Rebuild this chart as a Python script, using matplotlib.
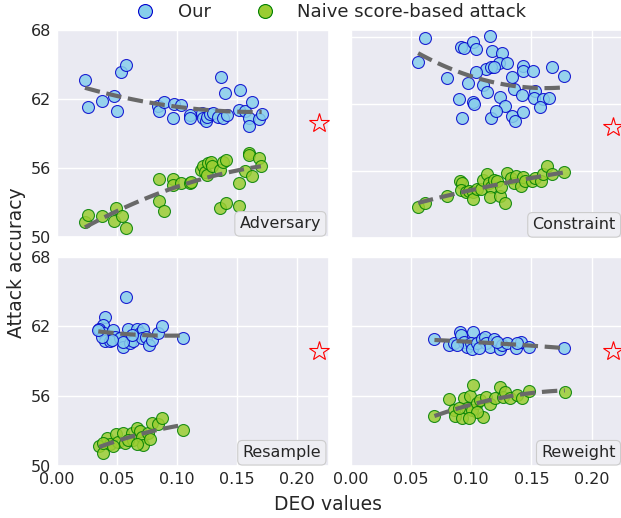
import numpy as np
import matplotlib
matplotlib.use('Agg')
import matplotlib.pyplot as plt
import seaborn as sns
from matplotlib.lines import Line2D

sns.set_theme(style='darkgrid')
plt.rcParams['font.family'] = ['DejaVu Sans']

# Adversary
adv_our_x = [0.0233, 0.0256, 0.0372, 0.0475, 0.0497, 0.0533, 0.0575, 0.0844, 0.0853, 0.0892, 0.0969, 0.0975,
             0.1031, 0.1108, 0.1108, 0.1206, 0.1219, 0.1242, 0.1253, 0.1275, 0.1297, 0.1344, 0.1364, 0.1400,
             0.1386, 0.1414, 0.1525, 0.1519, 0.1567, 0.1622, 0.1603, 0.1603, 0.1686, 0.1706]
adv_our_y = [63.65, 61.28, 61.85, 62.26, 60.96, 64.38, 64.96, 61.39, 60.99, 61.77, 60.38, 61.57,
             61.48, 60.61, 60.32, 60.81, 60.32, 60.12, 60.41, 60.70, 60.75, 60.41, 63.89, 62.55,
             60.32, 60.61, 62.78, 61.04, 60.96, 61.77, 60.32, 59.65, 60.23, 60.70]
adv_naive_x = [0.0233, 0.0261, 0.0375, 0.0475, 0.0494, 0.0539, 0.0575, 0.0853, 0.0853, 0.0892, 0.0969, 0.0969,
               0.1033, 0.1108, 0.1117, 0.1197, 0.1219, 0.1233, 0.1247, 0.1261, 0.1281, 0.1289, 0.1358, 0.1381,
               0.1406, 0.1358, 0.1406, 0.1519, 0.1519, 0.1567, 0.1603, 0.1603, 0.1622, 0.1683, 0.1700]
adv_naive_y = [51.24, 51.91, 51.77, 51.33, 52.49, 51.83, 50.75, 55.04, 53.07, 52.20, 55.04, 54.52,
               54.67, 54.67, 54.80, 55.83, 56.12, 55.68, 55.39, 56.41, 56.55, 56.12, 55.77, 56.55,
               56.70, 52.49, 52.98, 54.67, 52.70, 55.74, 57.28, 57.15, 55.30, 56.84, 56.17]

# Constraint
con_our_x = [0.0619, 0.0558, 0.0911, 0.0939, 0.1017, 0.1042, 0.1156, 0.1175, 0.1258, 0.1231, 0.1119, 0.1161,
             0.1189, 0.1294, 0.1036, 0.0800, 0.0975, 0.1097, 0.1133, 0.1336, 0.1356, 0.1419, 0.1433, 0.1433,
             0.1517, 0.1675, 0.1772, 0.1531, 0.1522, 0.1600, 0.1647, 0.1572, 0.1236, 0.1278, 0.0897, 0.1017,
             0.1022, 0.0919, 0.1161, 0.1203, 0.1336, 0.1361, 0.1433]
con_our_y = [67.85, 65.70, 67.10, 66.99, 67.49, 66.90, 68.03, 66.75, 66.51, 65.61, 65.10, 65.25,
             65.31, 65.61, 64.81, 64.27, 63.85, 63.67, 63.01, 64.42, 63.31, 62.81, 65.40, 64.96,
             64.96, 65.31, 64.45, 63.16, 62.51, 62.42, 62.51, 61.73, 62.57, 61.79, 62.45, 62.15,
             61.97, 60.72, 60.72, 61.31, 60.93, 60.48, 61.22]
con_naive_x = [0.0558, 0.0619, 0.0800, 0.0906, 0.0925, 0.0911, 0.0953, 0.0981, 0.1017, 0.1017, 0.1050, 0.1078,
               0.1100, 0.1133, 0.1147, 0.1161, 0.1156, 0.1189, 0.1217, 0.1239, 0.1278, 0.1244, 0.1294, 0.1328,
               0.1356, 0.1369, 0.1411, 0.1433, 0.1444, 0.1508, 0.1528, 0.1578, 0.1600, 0.1633, 0.1675, 0.1772]
con_naive_y = [52.72, 53.08, 53.76, 55.10, 54.87, 54.27, 54.06, 54.21, 54.06, 53.46, 54.36, 54.36,
               55.16, 55.70, 54.87, 54.51, 53.67, 55.16, 55.10, 53.76, 53.08, 54.51, 55.76, 55.34,
               54.87, 55.55, 54.66, 55.40, 55.10, 55.04, 55.34, 55.10, 55.70, 56.45, 55.70, 55.91]

# Resample
res_our_x = [0.0575, 0.0400, 0.0386, 0.0353, 0.0392, 0.0469, 0.0483, 0.0400, 0.0442, 0.0525, 0.0547, 0.0594,
             0.0608, 0.0636, 0.0664, 0.0692, 0.0714, 0.0706, 0.0742, 0.0769, 0.0789, 0.0844, 0.0872, 0.1053,
             0.0553, 0.0622, 0.0458, 0.0372, 0.0344]
res_our_y = [64.50, 62.83, 62.12, 61.75, 61.40, 61.69, 61.11, 60.77, 60.77, 60.97, 60.25, 61.75,
             60.54, 60.77, 61.75, 61.40, 61.75, 60.97, 61.11, 60.40, 60.83, 61.40, 62.03, 60.97,
             60.68, 61.26, 60.83, 61.11, 61.69]
res_naive_x = [0.0353, 0.0381, 0.0414, 0.0442, 0.0492, 0.0511, 0.0553, 0.0569, 0.0622, 0.0636, 0.0664, 0.0692,
               0.0706, 0.0719, 0.0761, 0.0775, 0.0789, 0.0844, 0.0872, 0.1053, 0.0386, 0.0469, 0.0594, 0.0664]
res_naive_y = [51.70, 51.12, 52.36, 51.87, 52.73, 52.07, 52.79, 51.93, 52.84, 52.21, 53.22, 53.02,
               52.50, 51.78, 52.79, 52.27, 53.65, 53.59, 54.08, 53.08, 51.93, 51.70, 52.21, 51.87]

# Reweight
rew_our_x = [0.0694, 0.0819, 0.0853, 0.0908, 0.0917, 0.1014, 0.0936, 0.0964, 0.0997, 0.1006, 0.1047, 0.1089,
             0.1117, 0.1125, 0.1158, 0.1186, 0.1236, 0.1256, 0.1297, 0.1375, 0.1414, 0.1478, 0.1769, 0.0881,
             0.1061, 0.1214, 0.1381]
rew_our_y = [60.89, 60.40, 60.54, 61.54, 61.26, 61.54, 60.68, 60.25, 60.54, 60.03, 60.54, 60.89,
             61.06, 60.54, 60.25, 60.89, 60.03, 60.40, 60.54, 60.11, 60.68, 60.25, 60.16, 60.40,
             60.11, 60.68, 60.54]
rew_naive_x = [0.0694, 0.0819, 0.0853, 0.0867, 0.0922, 0.0936, 0.0964, 0.0992, 0.1014, 0.1006, 0.1047, 0.1097,
               0.1075, 0.1125, 0.1158, 0.1200, 0.1236, 0.1264, 0.1283, 0.1325, 0.1381, 0.1422, 0.1478, 0.1778,
               0.0894, 0.1047, 0.0978]
rew_naive_y = [54.28, 55.72, 54.80, 54.28, 54.08, 55.81, 54.94, 56.00, 56.95, 54.80, 55.37, 54.17,
               55.66, 55.89, 55.31, 55.81, 56.75, 55.94, 56.37, 55.81, 56.09, 55.81, 56.43, 56.37,
               54.94, 54.65, 54.08]

panel_names = ['Adversary', 'Constraint', 'Resample', 'Reweight']
star_deo = 0.218
star_acc = 59.9
y_ticks = [50, 56, 62, 68]
x_ticks = [0.00, 0.05, 0.10, 0.15, 0.20]

OUR_STYLE = dict(s=74, facecolor='skyblue', edgecolor='mediumblue', linewidth=0.8, alpha=0.85, zorder=3)
NAIVE_STYLE = dict(s=74, facecolor='yellowgreen', edgecolor='green', linewidth=0.8, alpha=0.85, zorder=3)


def draw_trend(ax, x, y):
    # quadratic fit through the points
    x = np.asarray(x)
    coef = np.polyfit(x, y, 2)
    xs = np.linspace(x.min(), x.max(), 50)
    ax.plot(xs, np.polyval(coef, xs), '--', color='dimgray', lw=3, zorder=4)


fig = plt.figure(figsize=(6.21, 5.18), dpi=100)
positions = [
    [0.0918, 0.5430, 0.4385, 0.3990],
    [0.5652, 0.5410, 0.4396, 0.4010],
    [0.0918, 0.1010, 0.4385, 0.4035],
    [0.5652, 0.1010, 0.4396, 0.4035],
]
data = [
    (adv_our_x, adv_our_y, adv_naive_x, adv_naive_y),
    (con_our_x, con_our_y, con_naive_x, con_naive_y),
    (res_our_x, res_our_y, res_naive_x, res_naive_y),
    (rew_our_x, rew_our_y, rew_naive_x, rew_naive_y),
]
ylims = [(50, 68), (50.1, 68.6), (50, 68), (50, 68)]

for i, (pos, (ox, oy, nx, ny), name) in enumerate(zip(positions, data, panel_names)):
    ax = fig.add_axes(pos)
    ax.scatter(ox, oy, **OUR_STYLE)
    ax.scatter(nx, ny, **NAIVE_STYLE)
    draw_trend(ax, ox, oy)
    draw_trend(ax, nx, ny)
    ax.plot(star_deo, star_acc, marker='*', ms=15, mfc='none', mec='red', mew=0.8, ls='none', zorder=5)

    ax.set_xlim(0, 0.227)
    ax.set_ylim(*ylims[i])
    ax.set_xticks(x_ticks)
    ax.set_yticks(y_ticks)
    ax.tick_params(labelsize=11.5, length=0, pad=4.5)
    if i % 2 == 0:
        ax.set_yticklabels([str(t) for t in y_ticks])
    else:
        ax.set_yticklabels([])
    if i >= 2:
        ax.set_xticklabels([f'{t:.2f}' for t in x_ticks])
    else:
        ax.set_xticklabels([])

    ax.text(0.970, 0.026, name, transform=ax.transAxes, ha='right', va='bottom', fontsize=11.5,
            color='#262626', zorder=6,
            bbox=dict(boxstyle='round,pad=0.3', facecolor='#EEEEF3', edgecolor='#CCCCCC', lw=0.8))

handles = [
    Line2D([], [], marker='o', ls='none', ms=10, mfc='skyblue', mec='mediumblue', mew=0.8),
    Line2D([], [], marker='o', ls='none', ms=10, mfc='yellowgreen', mec='green', mew=0.8),
]
fig.legend(handles, ['Our', 'Naive score-based attack'], loc='center', bbox_to_anchor=(0.526, 0.977),
           ncol=2, frameon=False, fontsize=13)

fig.text(0.528, 0.026, 'DEO values', ha='center', va='center', fontsize=13.5, color='#262626')
fig.text(0.027, 0.492, 'Attack accuracy', ha='center', va='center', rotation=90, fontsize=13.5, color='#262626')

fig.savefig('out.png', dpi=100)
